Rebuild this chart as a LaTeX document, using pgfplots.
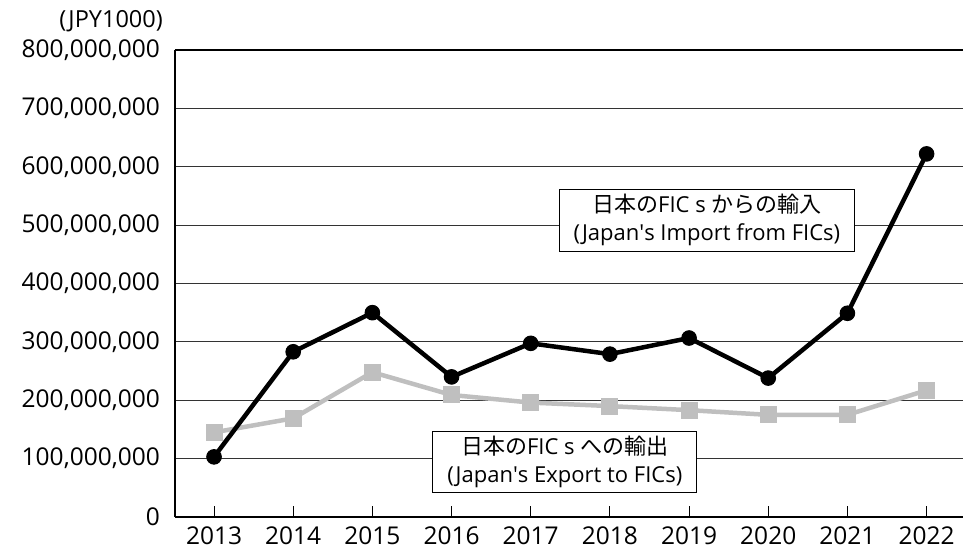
\documentclass[border=0pt]{standalone}
\usepackage{fontspec}
\setmainfont{Open Sans}
\newfontfamily\jp{Noto Sans CJK JP}
\usepackage{pgfplots}
\pgfplotsset{compat=1.18}
\definecolor{lgray}{RGB}{191,191,191}
\begin{document}
\begin{tikzpicture}
\begin{axis}[
  scale only axis, width=788pt, height=467pt,
  xmin=2012.507, xmax=2022.46, ymin=0, ymax=800000000,
  axis x line*=bottom, axis y line*=left,
  axis line style={-, line width=2pt, black},
  clip=false,
  xtick={2013,2014,2015,2016,2017,2018,2019,2020,2021,2022},
  xticklabels={2013,2014,2015,2016,2017,2018,2019,2020,2021,2022},
  ytick={0,100000000,200000000,300000000,400000000,500000000,600000000,700000000,800000000},
  scaled y ticks=false,
  /pgf/number format/assume math mode=true,
  yticklabel style={/pgf/number format/fixed, /pgf/number format/1000 sep={,}, inner sep=0pt},
  xticklabel style={inner sep=0pt},
  yticklabel shift=15pt,
  xticklabel shift=10pt,
  ticklabel style={font=\fontsize{24.5}{28}\selectfont},
  tick align=inside,
  major tick length=11pt,
  x tick style={black, line width=0.8pt},
  y tick style={draw=none},
  ymajorgrids,
  grid style={line width=0.9pt, black!80},
]
\draw[line width=2pt] (rel axis cs:0,1) -- (rel axis cs:1,1);
\addplot[lgray, line width=4.5pt, mark=square*, mark size=8pt, mark options={line width=1pt, fill=lgray}] coordinates {
(2013,145000000) (2014,169000000) (2015,248000000) (2016,209000000) (2017,196000000)
(2018,190000000) (2019,183000000) (2020,175000000) (2021,175000000) (2022,217000000)};
\addplot[black, line width=4.5pt, mark=*, mark size=7.3pt, mark options={line width=1pt}] coordinates {
(2013,103000000) (2014,283000000) (2015,350000000) (2016,240000000) (2017,297500000)
(2018,279000000) (2019,306600000) (2020,238000000) (2021,349000000) (2022,622000000)};
\node[draw=black, line width=0.8pt, fill=white, align=center, minimum width=295pt, minimum height=62pt, inner sep=2pt, font=\fontsize{22}{28}\selectfont] at (axis cs:2019.225,508800000) {{\jp 日本の}FIC s {\jp からの輸入}\\(Japan\textquotesingle s Import from FICs)};
\node[draw=black, line width=0.8pt, fill=white, align=center, minimum width=264pt, minimum height=61pt, inner sep=2pt, font=\fontsize{22}{28}\selectfont] at (axis cs:2017.43,94200000) {{\jp 日本の}FIC s {\jp への輸出}\\(Japan\textquotesingle s Export to FICs)};
\node[anchor=east, inner sep=0pt, font=\fontsize{23.5}{26}\selectfont] at ([xshift=-12pt, yshift=29pt]rel axis cs:0,1) {(JPY1000)};
\end{axis}
\pgfresetboundingbox
\path[use as bounding box] ([xshift=-175pt,yshift=-32pt]current axis.south west) rectangle ([yshift=50pt]current axis.north east);
\end{tikzpicture}
\end{document}
